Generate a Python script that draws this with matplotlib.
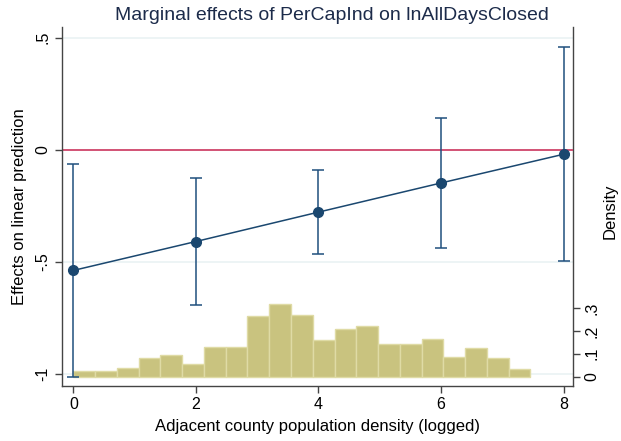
#!/usr/bin/env python3
"""
Marginal effects of PerCapInd on lnAllDaysClosed, with density of the moderator
"""
import numpy as np
import matplotlib
matplotlib.use("Agg")
import matplotlib.pyplot as plt

plt.rcParams['font.family'] = ['Liberation Sans', 'DejaVu Sans']

# Marginal effects at each moderator value
at_values = [0, 2, 4, 6, 8]
effects = [-0.538, -0.409, -0.278, -0.148, -0.020]
ci_lower = [-1.013, -0.694, -0.465, -0.438, -0.496]
ci_upper = [-0.063, -0.126, -0.090, 0.141, 0.457]

# Histogram of adjacent county population density (logged)
hist_start = 0.0
hist_width = 0.3552
hist_density = [0.025, 0.025, 0.038, 0.082, 0.094, 0.056, 0.130, 0.130,
                0.266, 0.319, 0.271, 0.160, 0.209, 0.222, 0.142, 0.142,
                0.165, 0.086, 0.124, 0.080, 0.032]

y_ticks = [0.5, 0, -0.5, -1]
y_ticklabels = ['.5', '0', '-.5', '-1']
d_ticks = [0, 0.1, 0.2, 0.3]
d_ticklabels = ['0', '.1', '.2', '.3']

navy = '#1a476f'
fig = plt.figure(figsize=(6.21, 4.41), dpi=100)
ax = fig.add_axes([0.0994, 0.1254, 0.8238, 0.8141])
ax2 = ax.twinx()

# Effects on the left axis, drawn above the histogram
ax.set_zorder(ax2.get_zorder() + 1)
ax.patch.set_visible(False)

# Gridlines sit under the histogram, so draw them on the density axes
for y in y_ticks:
    ax2.axhline(-0.040 + (y + 1.052) * (1.575 / 1.601), color='#eaf2f3',
                linewidth=1.2, zorder=0)
ax.axhline(0, color='#d1456b', linewidth=1.3, zorder=1)

err = [np.array(effects) - np.array(ci_lower), np.array(ci_upper) - np.array(effects)]
ax.errorbar(at_values, effects, yerr=err, fmt='none', ecolor='#1f4f7d',
            elinewidth=1.1, capsize=4, capthick=1.1, zorder=2)
ax.plot(at_values, effects, color=navy, linewidth=1.1, marker='o',
        markersize=7, zorder=3)

edges = hist_start + hist_width * np.arange(len(hist_density))
ax2.bar(edges, hist_density, width=hist_width, align='edge',
        color='#c9c37f', edgecolor='#dfdba5', linewidth=1.0, zorder=1)

ax.set_xlim(-0.19, 8.16)
ax.set_ylim(-1.052, 0.549)
ax2.set_ylim(-0.040, 1.535)

ax.set_xticks(at_values)
ax.set_yticks(y_ticks)
ax.set_yticklabels(y_ticklabels, rotation=90, va='center')
ax2.set_yticks(d_ticks)
ax2.set_yticklabels(d_ticklabels, rotation=90, va='center')

for a in (ax, ax2):
    a.spines['top'].set_visible(False)
    for s in ('left', 'right', 'bottom'):
        a.spines[s].set_color('#444444')
        a.spines[s].set_linewidth(1.0)
    a.tick_params(direction='out', length=5, width=1.0, color='#444444',
                  labelsize=11.5, labelcolor='black', pad=3)
ax.spines['right'].set_visible(False)
ax2.spines['left'].set_visible(False)
ax2.spines['bottom'].set_visible(False)

ax.set_xlabel('Adjacent county population density (logged)', fontsize=12, labelpad=5)
ax.set_ylabel('Effects on linear prediction', fontsize=12, labelpad=6)
fig.text(610 / 621, 0.522, 'Density', rotation=90, ha='center', va='center',
         fontsize=12)
fig.suptitle('Marginal effects of PerCapInd on lnAllDaysClosed', fontsize=14,
             color='#1c2b4a', x=0.535, y=0.985)

fig.savefig('out.png', dpi=100)
